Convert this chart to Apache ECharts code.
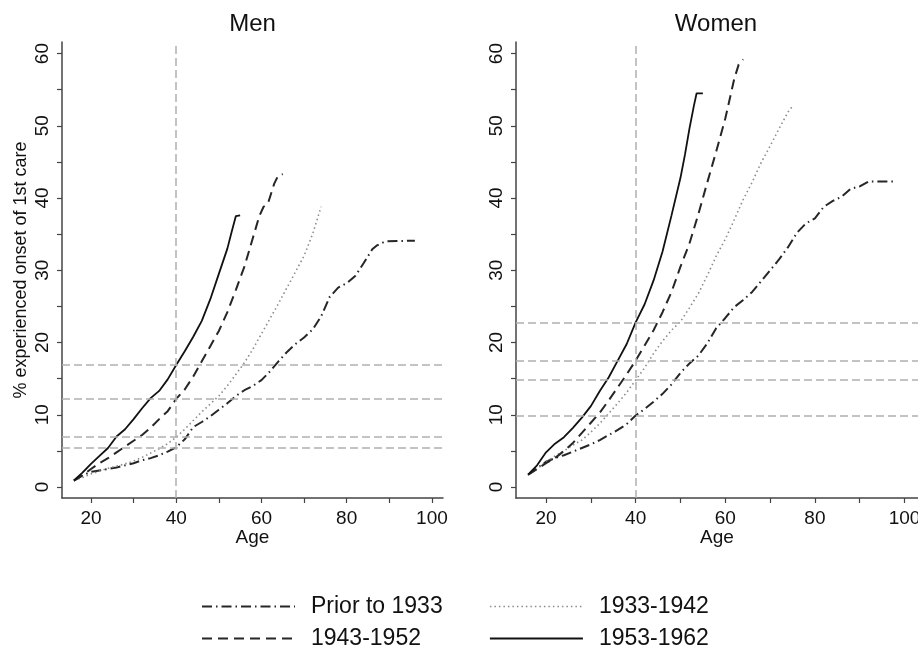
<!DOCTYPE html>
<html>
<head>
<meta charset="utf-8">
<script src="https://cdn.jsdelivr.net/npm/echarts@6/dist/echarts.min.js"></script>
<style>html,body{margin:0;padding:0;background:#fff}#c{width:918px;height:652px}</style>
</head>
<body>
<div id="c"></div>
<script>
// ---------- data ----------
const panels = ['Men', 'Women'];
const cohorts = ['Prior to 1933', '1933-1942', '1943-1952', '1953-1962'];
const xTicks = [20, 40, 60, 80, 100];
const xMinorTicks = [30, 50, 70, 90];
const yTicks = [0, 10, 20, 30, 40, 50, 60];
const yMinorTicks = [5, 15, 25, 35, 45, 55];
const yTitle = '% experienced onset of 1st care';
const xTitle = 'Age';
const refAge = 40;
const menRefPct = [5.5, 6.9, 12.2, 16.9];
const womenRefPct = [9.9, 14.8, 17.5, 22.8];

// Men
const menPriorAge = [16,18,20,22,24,26,28,30,32,34,36,38,40,42,44,46,48,50,52,54,56,58,60,62,64,66,68,70,72,74,76,78,80,82,84,86,87,89,96];
const menPriorPct = [0.9,1.6,2.1,2.3,2.5,2.7,3.0,3.3,3.7,4.0,4.4,4.9,5.5,6.6,8.3,9.0,9.8,10.7,11.6,12.6,13.4,14.0,14.8,16.0,17.4,18.7,19.8,20.7,21.8,23.6,26.3,27.6,28.2,29.2,31.0,32.9,33.4,34.0,34.1];
const men3342Age = [16,18,20,22,24,26,28,30,32,34,36,38,40,42,44,46,48,50,52,54,56,58,60,62,64,66,68,70,72,74];
const men3342Pct = [0.9,1.3,1.8,2.2,2.6,2.9,3.2,3.6,4.1,4.7,5.3,6.0,6.9,8.0,9.2,10.4,11.5,12.6,14.0,15.6,17.2,19.1,21.2,23.3,25.4,27.6,29.8,32.0,35.0,38.8];
const men4352Age = [16,18,20,22,24,26,28,30,32,34,36,38,40,42,44,46,48,50,52,54,56,58,59.5,60.5,61.5,63,64,65];
const men4352Pct = [0.9,1.6,2.5,3.3,4.0,4.8,5.6,6.4,7.2,8.2,9.4,10.5,12.2,13.5,15.3,17.4,19.5,21.6,24.2,27.3,30.5,34.5,37.5,38.8,39.2,42.0,43.2,43.3];
const men5362Age = [16,18,20,22,24,26,28,30,32,34,36,38,40,42,44,46,48,50,52,53,54,55];
const men5362Pct = [0.9,2.0,3.2,4.3,5.4,7.0,8.0,9.4,10.9,12.3,13.3,14.9,16.9,18.8,20.8,23.0,26.0,29.5,33.0,35.3,37.5,37.6];

// Women
const womenPriorAge = [16,18,20,22,24,26,28,30,32,34,36,38,40,42,44,46,48,50,52,54,56,58,60,62,64,66,68,70,72,74,76,78,80,82,84,86,88,90,92,98];
const womenPriorPct = [1.7,2.6,3.5,4.0,4.4,4.9,5.4,5.9,6.5,7.2,7.9,8.7,9.9,10.8,11.8,12.9,14.2,15.8,17.1,18.2,19.9,22.0,23.4,24.9,25.9,27.0,28.5,30.0,31.5,33.2,35.2,36.5,37.2,38.8,39.6,40.2,41.3,41.6,42.3,42.3];
const women3342Age = [16,18,20,22,24,26,28,30,32,34,36,38,40,42,44,46,48,50,52,54,56,58,60,62,64,66,68,70,72,74,75];
const women3342Pct = [1.7,2.5,3.5,4.3,5.0,5.8,6.5,7.6,8.8,10.2,11.6,13.1,14.8,16.5,18.5,20.2,21.7,22.9,24.8,26.8,29.3,32.0,34.3,37.0,39.8,42.2,44.9,47.2,49.6,51.9,52.7];
const women4352Age = [16,18,20,22,24,26,28,30,32,34,36,38,40,42,44,46,48,50,52,54,56,58,60,62,63,64];
const women4352Pct = [1.7,2.5,3.3,4.0,5.0,6.1,7.5,8.9,10.3,12.0,13.8,15.6,17.5,19.6,21.7,24.2,27.0,30.5,33.7,37.8,42.2,46.5,51.0,56.5,58.5,59.2];
const women5362Age = [16,18,20,22,24,26,28,30,32,34,36,38,40,42,44,46,48,50,51,52,53,53.6,55];
const women5362Pct = [1.7,3.0,4.8,6.0,6.9,8.2,9.6,11.2,13.3,15.2,17.5,19.8,22.8,25.3,28.6,32.6,37.6,42.8,46.0,49.6,52.8,54.5,54.5];

// ---------- styling ----------
const FONT = '"Liberation Sans", Arial, Helvetica, sans-serif';
const lineStyles = {
  'Prior to 1933': { color: '#262626', type: [10, 4, 1.5, 4], width: 2 },
  '1933-1942':     { color: '#8c8c8c', type: [1.5, 3], width: 1.6 },
  '1943-1952':     { color: '#262626', type: [10, 6], width: 2 },
  '1953-1962':     { color: '#111111', type: 'solid', width: 1.8 }
};
const refStyle = { color: '#b0b0b0', type: [8, 4], width: 1.5 };

const grids = [
  { left: 62, top: 42, width: 381, height: 456, outerBoundsMode: 'none', containLabel: false },
  { left: 516, top: 42, width: 402, height: 456, outerBoundsMode: 'none', containLabel: false }
];
const xRanges = [[13.2, 102.6], [13.3, 103.0]];
const yRange = [-1.52, 61.6];

const axisCol = '#444';
function xAxis(i) {
  return {
    type: 'value', gridIndex: i, min: xRanges[i][0], max: xRanges[i][1],
    axisLine: { show: true, onZero: false, lineStyle: { color: axisCol, width: 1.5 } },
    axisTick: { show: true, length: 5, customValues: xTicks.concat(xMinorTicks), lineStyle: { color: axisCol, width: 1.2 } },
    axisLabel: { customValues: xTicks, fontSize: 19, color: '#111', margin: 11, fontFamily: FONT },
    splitLine: { show: false },
    name: xTitle, nameLocation: 'middle', nameGap: 30, nameMoveOverlap: false,
    nameTextStyle: { fontSize: 19, color: '#111', fontFamily: FONT }
  };
}
function yAxis(i) {
  const ax = {
    type: 'value', gridIndex: i, min: yRange[0], max: yRange[1],
    axisLine: { show: true, onZero: false, lineStyle: { color: axisCol, width: 1.5 } },
    axisTick: { show: true, length: 5, customValues: yTicks.concat(yMinorTicks), lineStyle: { color: axisCol, width: 1.2 } },
    axisLabel: { customValues: yTicks, fontSize: 19, color: '#111', margin: 10, rotate: 90, fontFamily: FONT },
    splitLine: { show: false }
  };
  if (i === 0) {
    ax.name = yTitle;
    ax.nameLocation = 'middle';
    ax.nameGap = 32;
    ax.nameRotate = 90;
    ax.nameMoveOverlap = false;
    ax.nameTextStyle = { fontSize: 18, color: '#111', fontFamily: FONT };
  }
  return ax;
}

const panelData = [
  { ages: [menPriorAge, men3342Age, men4352Age, men5362Age], pcts: [menPriorPct, men3342Pct, men4352Pct, men5362Pct], refs: menRefPct },
  { ages: [womenPriorAge, women3342Age, women4352Age, women5362Age], pcts: [womenPriorPct, women3342Pct, women4352Pct, women5362Pct], refs: womenRefPct }
];

const series = [];
panelData.forEach((p, gi) => {
  // reference lines
  series.push({
    type: 'line', xAxisIndex: gi, yAxisIndex: gi, data: [], z: 1, silent: true,
    markLine: {
      silent: true, symbol: ['none', 'none'], animation: false,
      label: { show: false },
      lineStyle: refStyle,
      emphasis: { disabled: true },
      data: p.refs.map(v => ({ yAxis: v })).concat([{ xAxis: refAge }])
    }
  });
  cohorts.forEach((c, ci) => {
    series.push({
      name: c, type: 'line', xAxisIndex: gi, yAxisIndex: gi, z: 3,
      showSymbol: false, symbol: 'none', smooth: false, animation: false,
      lineStyle: lineStyles[c], itemStyle: { color: lineStyles[c].color },
      emphasis: { disabled: true },
      data: p.ages[ci].map((a, k) => [a, p.pcts[ci][k]])
    });
  });
});

function legendCol(left, names) {
  return {
    orient: 'vertical', left: left, top: 595, padding: 0, itemGap: 9,
    itemWidth: 93, itemHeight: 4, selectedMode: false,
    itemStyle: { opacity: 0 },
    textStyle: { fontSize: 23, color: '#111', fontFamily: FONT, padding: [0, 0, 0, 11] },
    data: names.map(n => ({ name: n, lineStyle: { color: lineStyles[n].color, type: lineStyles[n].type, width: lineStyles[n].width }, itemStyle: { opacity: 0 } }))
  };
}

const option = {
  backgroundColor: '#fff',
  animation: false,
  textStyle: { fontFamily: FONT },
  title: [
    { text: panels[0], left: 252.5, top: 12, textAlign: 'center', padding: 0, textStyle: { fontSize: 24, fontWeight: 'normal', color: '#111', fontFamily: FONT } },
    { text: panels[1], left: 716, top: 12, textAlign: 'center', padding: 0, textStyle: { fontSize: 24, fontWeight: 'normal', color: '#111', fontFamily: FONT } }
  ],
  legend: [
    legendCol(201, [cohorts[0], cohorts[2]]),
    legendCol(489, [cohorts[1], cohorts[3]])
  ],
  grid: grids,
  xAxis: [xAxis(0), xAxis(1)],
  yAxis: [yAxis(0), yAxis(1)],
  series: series
};

const chart = echarts.init(document.getElementById('c'), null, { renderer: 'canvas' });
chart.setOption(option);
</script>
</body>
</html>
